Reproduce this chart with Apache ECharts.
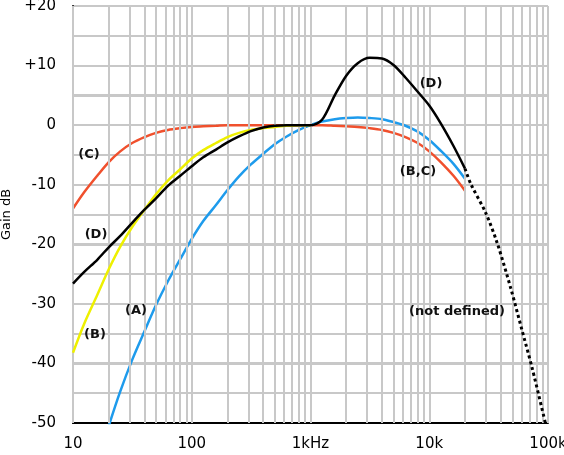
<!DOCTYPE html>
<html>
<head>
<meta charset="utf-8">
<script src="https://cdn.jsdelivr.net/npm/echarts@6/dist/echarts.min.js"></script>
<style>
html,body{margin:0;padding:0;background:#fff;}
#c{width:564px;height:455px;}
</style>
</head>
<body>
<div id="c"></div>
<script>
// Frequencies (Hz), 1/3-octave points
const freqs = [10,12.5,16,20,25,31.5,40,50,63,80,100,125,160,200,250,315,400,500,630,800,1000,
  1250,1600,2000,2500,3150,4000,5000,6300,8000,10000,12500,16000,20000];
// Weighting curves (dB)
const aWeight = [-70.4,-63.4,-56.7,-50.5,-44.7,-39.4,-34.6,-30.2,-26.2,-22.5,-19.1,-16.1,-13.4,-10.9,-8.6,-6.6,-4.8,-3.2,-1.9,-0.8,0,
  0.6,1.0,1.2,1.3,1.2,1.0,0.5,-0.1,-1.1,-2.5,-4.3,-6.5,-9.0];
const bWeight = [-38.2,-33.2,-28.5,-24.2,-20.4,-17.1,-14.2,-11.6,-9.3,-7.4,-5.6,-4.2,-3.0,-2.0,-1.3,-0.8,-0.5,-0.3,-0.1,0,0];
const cWeight = [-14.0,-11.2,-8.5,-6.2,-4.4,-3.0,-2.0,-1.3,-0.8,-0.5,-0.3,-0.2,-0.1,0,0,0,0,0,0,0,0,
  0,-0.1,-0.2,-0.3,-0.5,-0.8,-1.3,-2.0,-3.0,-4.4,-6.2,-8.5,-11.0];
const dWeight = [-26.6,-24.6,-22.6,-20.5,-18.6,-16.4,-14.2,-12.3,-10.2,-8.5,-6.9,-5.4,-4.1,-2.9,-1.9,-1.0,-0.4,-0.1,0,0,0,
  0.9,5.0,8.3,10.4,11.3,11.2,10.1,8.0,5.6,3.3,0.3,-3.5,-7.3];
// D-curve extension (not defined region)
const dExtFreqs = [20000,22300,30000,37500,48600,60000,73800,95000];
const dExtGain  = [-7.3,-9.8,-14.8,-19.9,-27.4,-34.2,-40.9,-50.0];
// Axis ticks
const yTicks = [-50,-40,-30,-20,-10,0,10,20];
const yGridStep = 5;
const xTickLabels = {10:'10',100:'100',1000:'1kHz',10000:'10k',100000:'100k'};
const gridMult = [1,2,3,4,5,6,7,8,9];
const decades = [10,100,1000,10000];

const xMin = 10, xMax = 100000;
const yMin = yTicks[0], yMax = yTicks[yTicks.length-1];
const eps = 1e-6;
const gridFreqs = [];
decades.forEach(d => gridMult.forEach(m => gridFreqs.push(d*m)));
gridFreqs.push(xMax);
const gridGains = [];
for (let g = yMin + yGridStep; g <= yMax; g += yGridStep) gridGains.push(g);

const pairs = (xs, ys) => ys.map((v,i) => [xs[i], v]);
const inX = f => Math.min(Math.max(f, xMin*(1+eps)), xMax*(1-eps));
const inY = g => Math.min(Math.max(g, yMin+eps), yMax-eps);

const gridColor = '#c8c8c8';
const chart = echarts.init(document.getElementById('c'), null, {renderer:'canvas'});
const labelFont = 'bold 13px "DejaVu Sans"';
function lbl(text, x, y){
  return {type:'text', x:x, y:y, z:100, style:{text:text, font:labelFont, fill:'#111', align:'center', verticalAlign:'middle', textAlign:'center', textVerticalAlign:'middle'}};
}
const labels = [
  lbl('(C)', 89, 155),
  lbl('(D)', 96, 235),
  lbl('(B)', 95, 335),
  lbl('(A)', 136, 311),
  lbl('(D)', 431, 84),
  lbl('(B,C)', 418, 172),
  lbl('(not defined)', 457, 312)
];
const vLines = gridFreqs.map(f => [{coord:[inX(f), inY(yMin)]},{coord:[inX(f), inY(yMax)]}]);
chart.setOption({
  animation:false,
  backgroundColor:'#fff',
  grid:{left:73, right:16, top:6, bottom:32, containLabel:false, outerBoundsMode:'none'},
  xAxis:{
    type:'log', logBase:10, min:xMin, max:xMax,
    axisLine:{show:true, onZero:false, lineStyle:{color:'#000', width:2}},
    axisTick:{show:false},
    axisLabel:{formatter:v => xTickLabels[Math.round(v)] || '', fontFamily:'DejaVu Sans', fontSize:15, color:'#000', margin:14, showMaxLabel:true, showMinLabel:true},
    splitLine:{show:false}
  },
  yAxis:{
    type:'value', min:yMin, max:yMax, interval:yGridStep,
    axisLine:{show:true, onZero:false, lineStyle:{color:'#000', width:2}},
    axisTick:{show:false},
    axisLabel:{formatter:v => yTicks.indexOf(v) < 0 ? '' : (v>0 ? '+'+v : String(v)), fontFamily:'DejaVu Sans', fontSize:15, color:'#000', margin:17},
    splitLine:{show:true, lineStyle:{color:gridColor, width:2, opacity:1}},
    name:'Gain dB', nameLocation:'middle', nameRotate:90, nameGap:58,
    nameTextStyle:{fontFamily:'DejaVu Sans', fontSize:13, color:'#000'}
  },
  series:[
    {type:'line', name:'grid', data:[], silent:true, z:1,
     markLine:{silent:true, symbol:'none', label:{show:false}, animation:false,
       lineStyle:{color:gridColor, width:2, type:'solid'},
       data: vLines}},
    {type:'line', name:'C', data:pairs(freqs,cWeight), showSymbol:false, smooth:0.3, z:3,
     lineStyle:{color:'#f0502d', width:2.5}, itemStyle:{color:'#f0502d'}},
    {type:'line', name:'A', data:pairs(freqs,aWeight), showSymbol:false, smooth:0.3, z:4,
     lineStyle:{color:'#1e9bec', width:2.5}, itemStyle:{color:'#1e9bec'}},
    {type:'line', name:'B', data:pairs(freqs.slice(0,bWeight.length),bWeight), showSymbol:false, smooth:0.3, z:5,
     lineStyle:{color:'#eef000', width:2.5}, itemStyle:{color:'#eef000'}},
    {type:'line', name:'D', data:pairs(freqs,dWeight), showSymbol:false, smooth:0.3, z:6,
     lineStyle:{color:'#000', width:2.5}, itemStyle:{color:'#000'}},
    {type:'line', name:'Dext', data:pairs(dExtFreqs,dExtGain), showSymbol:false, smooth:0.3, z:6,
     lineStyle:{color:'#000', width:3, type:[3,3]}, itemStyle:{color:'#000'}}
  ],
  graphic:labels
});
// Horizontal grid lines positioned through the chart's own scales
const hLines = gridGains.map(g => {
  const p0 = chart.convertToPixel({gridIndex:0}, [xMin, g]);
  const p1 = chart.convertToPixel({gridIndex:0}, [xMax, g]);
  const yy = Math.round(p0[1]);
  return {type:'line', z:0, silent:true,
    shape:{x1:p0[0], y1:yy, x2:p1[0], y2:yy},
    style:{stroke:gridColor, lineWidth:2}};
});
chart.setOption({graphic: labels.concat(hLines)});
</script>
</body>
</html>
